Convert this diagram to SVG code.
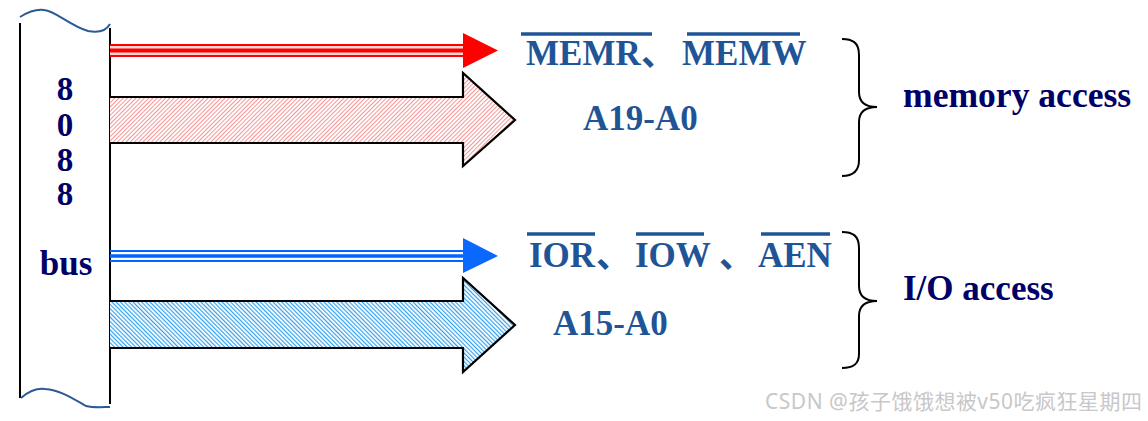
<svg xmlns="http://www.w3.org/2000/svg" width="1148" height="421" viewBox="0 0 1148 421">
<style>
.t{font-family:"Liberation Serif","Times New Roman",serif;font-weight:bold;font-size:35px}
.d{font-family:"Liberation Serif","Times New Roman",serif;font-weight:bold;font-size:33px}
.navy{fill:#000066}
.blue{fill:#1f5597}
.cjk{font-family:"Liberation Serif","Noto Sans CJK SC",serif;font-weight:bold;font-size:35px;fill:#1f5597}
.ov{stroke:#1f5597;stroke-width:3.5}
.brace{fill:none;stroke:#000;stroke-width:2}
.big{stroke:#000;stroke-width:2.2;stroke-linejoin:miter}
</style>
<defs>
<pattern id="hatchRed" patternUnits="userSpaceOnUse" width="3" height="3" patternTransform="rotate(45)">
<rect width="3" height="3" fill="#fff"/>
<line x1="0.5" y1="0" x2="0.5" y2="3" stroke="#f27a7a" stroke-width="0.8"/>
</pattern>
<pattern id="hatchBlue" patternUnits="userSpaceOnUse" width="3" height="3" patternTransform="rotate(-45)">
<rect width="3" height="3" fill="#fff"/>
<line x1="0.5" y1="0" x2="0.5" y2="3" stroke="#2fa0ee" stroke-width="1.3"/>
</pattern>
</defs>
<rect width="1148" height="421" fill="#fff"/>

<g id="bus">
<line x1="20" y1="23" x2="20" y2="398" stroke="#000" stroke-width="2"/>
<line x1="110" y1="28" x2="110" y2="404" stroke="#000" stroke-width="2"/>
<path d="M20,17 C28,12 36,9 44,10 C56,11 70,26 88,31 C98,33 106,31 110,24" fill="none" stroke="#2a5a96" stroke-width="2"/>
<path d="M21,398 C28,392 36,388 45,389 C60,390 72,398 86,406 C94,408 104,407 110,407" fill="none" stroke="#2a5a96" stroke-width="2"/>
<text class="d navy" x="65" y="100" text-anchor="middle">8</text>
<text class="d navy" x="65" y="136" text-anchor="middle">0</text>
<text class="d navy" x="65" y="171" text-anchor="middle">8</text>
<text class="d navy" x="65" y="205" text-anchor="middle">8</text>
<text class="t navy" x="66" y="275" text-anchor="middle">bus</text>
</g>

<g id="connectors">
<g id="memCtrl">
<rect x="110" y="44" width="353" height="13" fill="#ffd6d6"/>
<line x1="110" y1="45" x2="463" y2="45" stroke="#ff0000" stroke-width="2"/>
<line x1="110" y1="50.5" x2="463" y2="50.5" stroke="#ff0000" stroke-width="4"/>
<line x1="110" y1="56" x2="463" y2="56" stroke="#ff0000" stroke-width="2"/>
<polygon points="463,33 498,50.5 463,68" fill="#ff0000"/>
</g>
<g id="memAddr">
<path d="M110,97 H463 V73 L515,120 L463,166 V143 H110 Z" fill="url(#hatchRed)"/>
<path class="big" d="M110,97 H463 V73 L515,120 L463,166 V143 H110" fill="none"/>
</g>
<g id="ioCtrl">
<line x1="110" y1="251" x2="463" y2="251" stroke="#0066ff" stroke-width="2"/>
<line x1="110" y1="256" x2="463" y2="256" stroke="#0066ff" stroke-width="3.5"/>
<line x1="110" y1="261" x2="463" y2="261" stroke="#0066ff" stroke-width="2"/>
<polygon points="463,238 498,256 463,273" fill="#0a68ff"/>
</g>
<g id="ioAddr">
<path d="M110,301 H463 V278 L515,325 L463,372 V348 H110 Z" fill="url(#hatchBlue)"/>
<path class="big" d="M110,301 H463 V278 L515,325 L463,372 V348 H110" fill="none"/>
</g>
</g>

<g id="memLabels">
<line class="ov" x1="521" y1="34" x2="652" y2="34"/>
<line class="ov" x1="687" y1="34" x2="800" y2="34"/>
<text class="t blue" x="526" y="65">MEMR</text>
<text class="cjk" x="641" y="65">、</text>
<text class="t blue" x="682" y="65">MEMW</text>
<text class="t blue" x="583" y="130">A19-A0</text>
</g>

<g id="ioLabels">
<line class="ov" x1="527" y1="234" x2="595" y2="234"/>
<line class="ov" x1="636" y1="234" x2="704" y2="234"/>
<line class="ov" x1="761" y1="234" x2="830" y2="234"/>
<text class="t blue" x="529" y="267">IOR</text>
<text class="cjk" x="596" y="267">、</text>
<text class="t blue" x="635" y="267">IOW</text>
<text class="cjk" x="719" y="267">、</text>
<text class="t blue" x="758" y="267">AEN</text>
<text class="t blue" x="553" y="335">A15-A0</text>
</g>

<g id="memGroup">
<path class="brace" d="M842,39 C852,39 859,42 859,55 V92 C859,102 865,107 877,107 C865,107 859,112 859,122 V160 C859,172 852,176 842,176"/>
<text class="t navy" x="903" y="107" style="font-size:35.6px">memory access</text>
</g>

<g id="ioGroup">
<path class="brace" d="M842,232 C852,232 859,235 859,248 V286 C859,296 865,301 877,301 C865,301 859,306 859,316 V354 C859,365 852,368 842,368"/>
<text class="t navy" x="903" y="300">I/O access</text>
</g>

<text x="765" y="409" font-family="'Noto Sans','Noto Sans CJK SC',sans-serif" font-size="21" fill="#c8c8c8" textLength="377" lengthAdjust="spacing">CSDN @孩子饿饿想被v50吃疯狂星期四</text>
</svg>
